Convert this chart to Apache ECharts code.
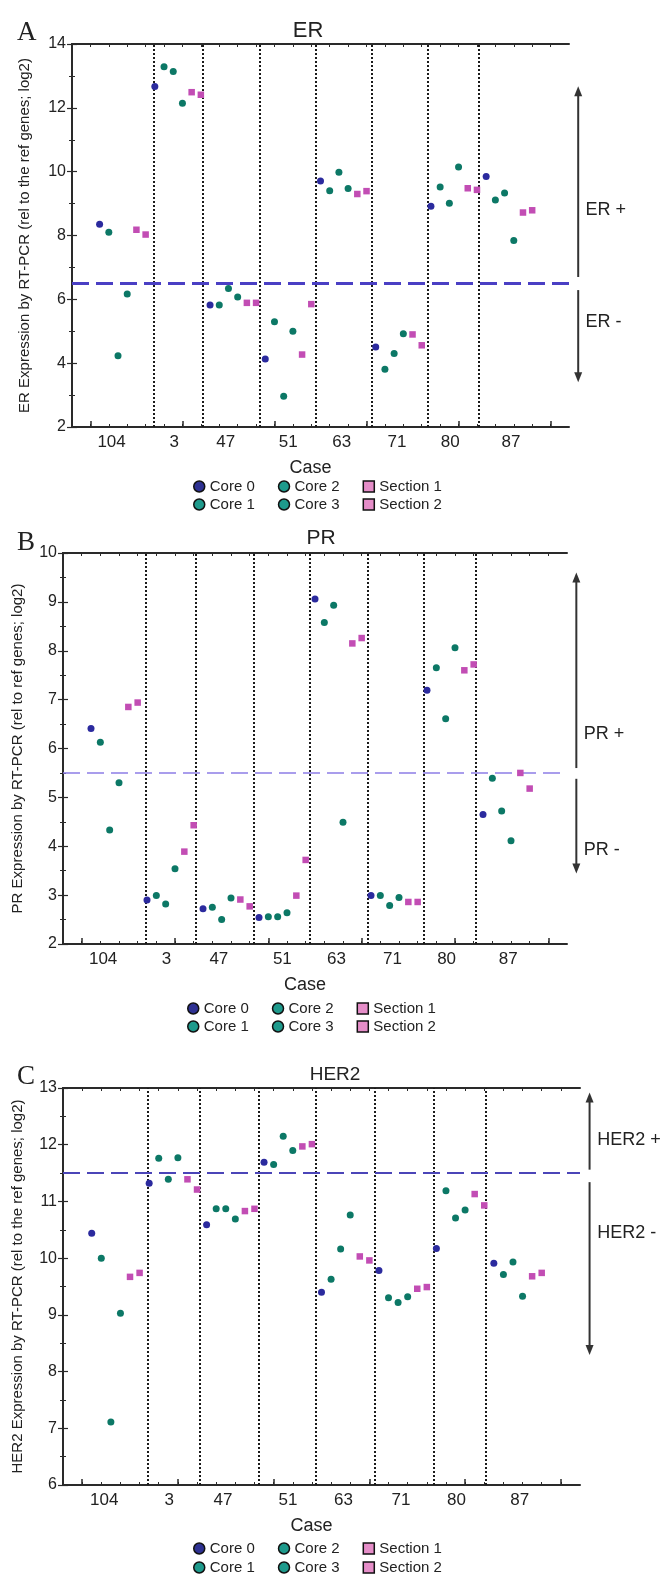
<!DOCTYPE html>
<html><head><meta charset="utf-8">
<script src="https://cdn.jsdelivr.net/npm/echarts@6/dist/echarts.min.js"></script>
<style>html,body{margin:0;padding:0;background:#fff}#c{width:665px;height:1576px}</style>
</head><body><div id="c"></div>
<script>
// ---------- data ----------
const cases = ['104', '3', '47', '51', '63', '71', '80', '87'];
const caseLabelPos = [4.3, 11.1, 16.7, 23.5, 29.3, 35.3, 41.1, 47.7];
const dividerPos = [8.85, 14.25, 20.4, 26.45, 32.6, 38.7, 44.2];
const seriesNames = ['Core 0', 'Core 1', 'Core 2', 'Core 3', 'Section 1', 'Section 2'];
const xTicks = [2,4,6,8,10,12,14,16,18,20,22,24,26,28,30,32,34,36,38,40,42,44,46,48,50,52];
const xMajorTicks = [2, 12, 22, 32, 42, 52];

const erCore0 = [8.35, 12.67, 5.82, 4.13, 9.71, 4.51, 8.92, 9.85];
const erCore1 = [8.10, 13.29, 5.82, 5.30, 9.40, 3.81, 9.52, 9.11];
const erCore2 = [4.23, 13.14, 6.34, 2.96, 9.98, 4.30, 9.01, 9.33];
const erCore3 = [6.17, 12.14, 6.07, 5.00, 9.47, 4.92, 10.15, 7.84];
const erSec1  = [8.18, 12.49, 5.89, 4.27, 9.30, 4.90, 9.48, 8.72];
const erSec2  = [8.03, 12.41, 5.89, 5.85, 9.39, 4.56, 9.43, 8.79];
const erCut = 6.5;
const erRanges = [[6.7, 12.68, 1], [3.4, 6.29, -1]];
const erLabels = [['ER +', 8.8], ['ER -', 5.3]];

const prCore0 = [6.41, 2.90, 2.72, 2.54, 9.06, 2.99, 7.19, 4.65];
const prCore1 = [6.13, 2.99, 2.75, 2.56, 8.58, 2.99, 7.65, 5.39];
const prCore2 = [4.33, 2.82, 2.50, 2.56, 8.93, 2.79, 6.61, 4.72];
const prCore3 = [5.30, 3.54, 2.94, 2.64, 4.49, 2.95, 8.06, 4.11];
const prSec1  = [6.85, 3.89, 2.91, 2.99, 8.15, 2.86, 7.60, 5.50];
const prSec2  = [6.94, 4.43, 2.77, 3.72, 8.26, 2.86, 7.72, 5.18];
const prCut = 5.5;
const prRanges = [[5.6, 9.6, 1], [3.44, 5.38, -1]];
const prLabels = [['PR +', 6.3], ['PR -', 3.93]];

const her2Core0 = [10.44, 11.32, 10.59, 11.69, 9.40, 9.78, 10.17, 9.91];
const her2Core1 = [10.00, 11.76, 10.87, 11.65, 9.63, 9.30, 11.19, 9.71];
const her2Core2 = [7.11, 11.39, 10.87, 12.15, 10.16, 9.22, 10.71, 9.93];
const her2Core3 = [9.03, 11.77, 10.69, 11.90, 10.76, 9.32, 10.85, 9.33];
const her2Sec1  = [9.67, 11.39, 10.83, 11.97, 10.03, 9.46, 11.13, 9.68];
const her2Sec2  = [9.74, 11.21, 10.87, 12.01, 9.96, 9.49, 10.93, 9.74];
const her2Cut = 11.5;
const her2Ranges = [[11.56, 12.92, 1], [8.29, 11.34, -1]];
const her2Labels = [['HER2 +', 12.08], ['HER2 -', 10.44]];

// ---------- styling / layout ----------
const FONT = 'Liberation Sans, Arial, sans-serif';
const AX = '#2a2a2a';
const colCore0 = '#2b2a9e', colCore = '#0c7866', colSec = '#c24db4';
const legCore0 = '#2e3192', legCore = '#1e9a8c', legSec = '#e58dc8';
const annX = 55, annTextX = 55.8;

const panels = [
  { letter: 'A', title: 'ER', titleX: 303, titleTop: 15, titleSize: 22, letterTop: 14,
    grid: { left: 72, top: 44, width: 497, height: 383 }, yMin: 2, yMax: 14, yInt: 2,
    yName: 'ER Expression by RT-PCR (rel to the ref genes; log2)', nameGap: 40,
    values: [erCore0, erCore1, erCore2, erCore3, erSec1, erSec2], cut: erCut,
    cutStyle: { color: '#4a3fc4', width: 3, type: [17, 7] },
    ranges: erRanges, labels: erLabels, legendLeft: 193, legendTop: [479, 497] },
  { letter: 'B', title: 'PR', titleX: 316, titleTop: 523, titleSize: 21, letterTop: 524,
    grid: { left: 63, top: 553, width: 504, height: 391 }, yMin: 2, yMax: 10, yInt: 1,
    yName: 'PR Expression by RT-PCR (rel to ref genes; log2)', nameGap: 38,
    values: [prCore0, prCore1, prCore2, prCore3, prSec1, prSec2], cut: prCut,
    cutStyle: { color: '#8d7ee6', width: 1.6, type: [17, 7] },
    ranges: prRanges, labels: prLabels, legendLeft: 187, legendTop: [1001, 1019] },
  { letter: 'C', title: 'HER2', titleX: 330, titleTop: 1060, titleSize: 19, letterTop: 1058,
    grid: { left: 63, top: 1088, width: 517, height: 397 }, yMin: 6, yMax: 13, yInt: 1,
    yName: 'HER2 Expression by RT-PCR (rel to the ref genes; log2)', nameGap: 38,
    values: [her2Core0, her2Core1, her2Core2, her2Core3, her2Sec1, her2Sec2], cut: her2Cut,
    cutStyle: { color: '#4b45b8', width: 2.2, type: [17, 7] },
    ranges: her2Ranges, labels: her2Labels, legendLeft: 193, legendTop: [1541, 1560] }
];

const option = { animation: false, backgroundColor: '#fff',
  title: [], grid: [], xAxis: [], yAxis: [], series: [], legend: [] };

function legItem(name) {
  const isSec = name.indexOf('Section') === 0;
  const c = name === 'Core 0' ? legCore0 : (isSec ? legSec : legCore);
  return { name, icon: isSec ? 'rect' : 'circle',
    itemStyle: { color: c, borderColor: '#111', borderWidth: 1.5 } };
}

panels.forEach((p, gi) => {
  option.title.push({ text: p.letter, left: 12, top: p.letterTop,
    textStyle: { fontFamily: 'Liberation Serif, Times New Roman, serif', fontSize: 27, fontWeight: 'normal', color: '#222' } });
  option.title.push({ text: p.title, left: p.titleX, top: p.titleTop, textAlign: 'center',
    textStyle: { fontFamily: FONT, fontSize: p.titleSize, fontWeight: 'normal', color: '#222' } });
  option.grid.push(Object.assign({ containLabel: false }, p.grid));

  const xBase = { type: 'value', gridIndex: gi, min: 0, max: 54, splitLine: { show: false } };
  option.xAxis.push(Object.assign({}, xBase, {
    position: 'bottom', name: 'Case', nameLocation: 'middle', nameGap: 32,
    nameTextStyle: { fontFamily: FONT, fontSize: 18, color: '#222', padding: [0, 20, 0, 0] },
    axisLine: { show: true, lineStyle: { color: AX, width: 2 } },
    axisTick: { show: true, inside: true, length: 3, customValues: xTicks, lineStyle: { color: AX, width: 1 } },
    axisLabel: { show: true, customValues: caseLabelPos, margin: 7,
      fontFamily: FONT, fontSize: 17, color: '#222',
      formatter: v => { const i = caseLabelPos.findIndex(t => Math.abs(t - v) < 1e-6); return i >= 0 ? cases[i] : ''; } }
  }));
  option.xAxis.push(Object.assign({}, xBase, {
    position: 'bottom', axisLine: { show: false },
    axisTick: { show: true, inside: true, length: 6, customValues: xMajorTicks, lineStyle: { color: AX, width: 1.5 } },
    axisLabel: { show: false }
  }));
  option.xAxis.push(Object.assign({}, xBase, {
    position: 'top', axisLine: { show: true, lineStyle: { color: AX, width: 2 } },
    axisTick: { show: true, inside: true, length: 3, customValues: xTicks, lineStyle: { color: AX, width: 1 } },
    axisLabel: { show: false }
  }));

  const yBase = { type: 'value', gridIndex: gi, min: p.yMin, max: p.yMax, interval: p.yInt,
    splitLine: { show: false },
    axisLine: { show: true, lineStyle: { color: AX, width: 2 } },
    axisTick: { show: true, inside: true, length: 5, lineStyle: { color: AX, width: 1.2 } },
    minorTick: { show: true, splitNumber: 2, length: 3, lineStyle: { color: AX, width: 1 } } };
  option.yAxis.push(Object.assign({}, yBase, {
    position: 'left', name: p.yName, nameLocation: 'middle', nameGap: p.nameGap,
    nameTextStyle: { fontFamily: FONT, fontSize: 15, color: '#222' },
    axisLabel: { show: true, margin: 6, fontFamily: FONT, fontSize: 16, color: '#222' }
  }));
  option.yAxis.push(Object.assign({}, yBase, { position: 'right', axisLabel: { show: false } }));

  const xi = gi * 3, yi = gi * 2;
  p.values.forEach((vals, k) => {
    const isSec = k >= 4;
    const s = {
      type: 'scatter', name: seriesNames[k], xAxisIndex: xi, yAxisIndex: yi,
      symbol: isSec ? 'rect' : 'circle', symbolSize: isSec ? 6.5 : 7, z: 4,
      itemStyle: { color: k === 0 ? colCore0 : (isSec ? colSec : colCore), opacity: 1 },
      data: vals.map((v, i) => [3 + 6 * i + k, v])
    };
    if (k === 0) {
      s.markLine = { silent: true, symbol: 'none', animation: false, label: { show: false }, z: 2,
        data: dividerPos.map(v => ({ xAxis: v, lineStyle: { color: '#1a1a1a', type: [2, 2], width: 2 } }))
          .concat([{ yAxis: p.cut, lineStyle: p.cutStyle }]) };
    }
    option.series.push(s);
  });

  option.series.push({
    type: 'custom', xAxisIndex: xi, yAxisIndex: yi, clip: false, silent: true, z: 5,
    data: p.ranges.map(r => [annX, r[0], r[1], r[2]]),
    renderItem: (params, api) => {
      const x = api.value(0), lo = api.value(1), hi = api.value(2), up = api.value(3);
      const pt = api.coord([x, hi]), pb = api.coord([x, lo]);
      const X = pt[0], top = pt[1], bot = pb[1], hw = 4, hl = 10;
      let line, head;
      if (up > 0) { line = { x1: X, y1: top + hl - 2, x2: X, y2: bot }; head = [[X, top], [X - hw, top + hl], [X + hw, top + hl]]; }
      else { line = { x1: X, y1: top, x2: X, y2: bot - hl + 2 }; head = [[X, bot], [X - hw, bot - hl], [X + hw, bot - hl]]; }
      return { type: 'group', children: [
        { type: 'line', shape: line, style: { stroke: '#333', lineWidth: 2 } },
        { type: 'polygon', shape: { points: head }, style: { fill: '#333' } } ] };
    }
  });
  option.series.push({
    type: 'custom', xAxisIndex: xi, yAxisIndex: yi, clip: false, silent: true, z: 5,
    data: p.labels.map(l => [annTextX, l[1]]),
    renderItem: (params, api) => {
      const pt = api.coord([api.value(0), api.value(1)]);
      return { type: 'text', x: pt[0], y: pt[1],
        style: { text: p.labels[params.dataIndex][0], fill: '#222', font: '18px ' + FONT, align: 'left', verticalAlign: 'middle' } };
    }
  });

  const lgBase = { orient: 'horizontal', left: p.legendLeft, itemGap: 23, itemWidth: 11, itemHeight: 11,
    selectedMode: false, padding: 0, textStyle: { fontFamily: FONT, fontSize: 15, color: '#222' } };
  option.legend.push(Object.assign({}, lgBase, { top: p.legendTop[0], data: ['Core 0', 'Core 2', 'Section 1'].map(legItem) }));
  option.legend.push(Object.assign({}, lgBase, { top: p.legendTop[1], data: ['Core 1', 'Core 3', 'Section 2'].map(legItem) }));
});

const chart = echarts.init(document.getElementById('c'), null, { renderer: 'canvas' });
chart.setOption(option);
</script></body></html>
